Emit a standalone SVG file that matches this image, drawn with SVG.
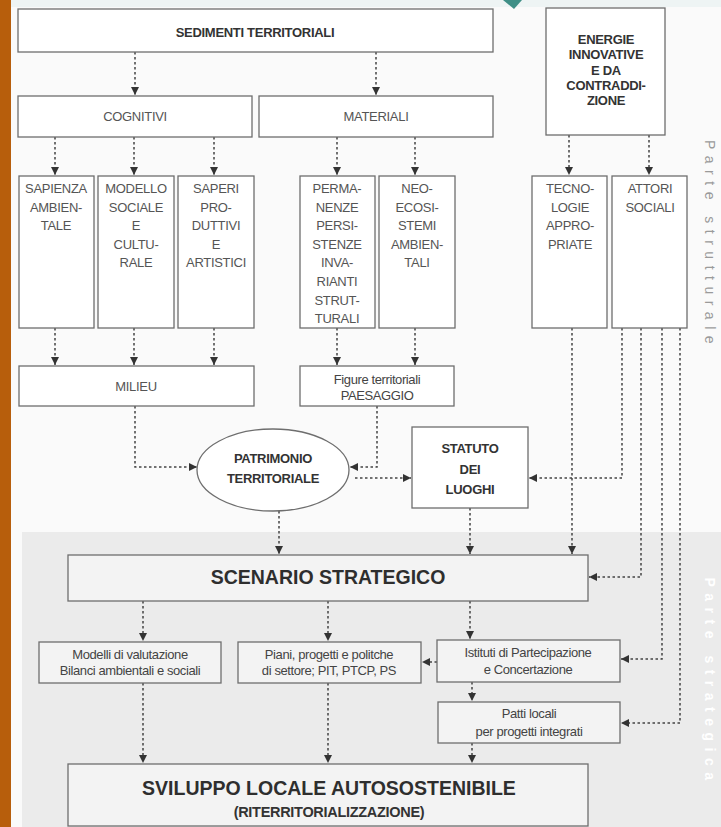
<svg xmlns="http://www.w3.org/2000/svg" width="721" height="827" viewBox="0 0 721 827">
<style>
.box{fill:#ffffff;stroke:#6e6e6e;stroke-width:1.3}
.gbox{fill:#f3f3f3;stroke:#6e6e6e;stroke-width:1.3}
.t{font-family:"Liberation Sans",Arial,sans-serif;font-size:13px;fill:#555;text-anchor:middle;letter-spacing:-0.3px}
.tb{font-family:"Liberation Sans",Arial,sans-serif;font-size:13px;font-weight:bold;fill:#333;text-anchor:middle;letter-spacing:-0.3px}
.ts{font-family:"Liberation Sans",Arial,sans-serif;font-size:13px;fill:#444;text-anchor:middle;letter-spacing:-0.4px}
.big{font-family:"Liberation Sans",Arial,sans-serif;font-size:19.5px;font-weight:bold;fill:#2e2e2e;text-anchor:middle}
.c{fill:none;stroke:#444;stroke-width:1.5;stroke-dasharray:2.5 2.5}
.side{font-family:"Liberation Sans",Arial,sans-serif;font-size:14px;letter-spacing:6.5px;text-anchor:middle}
</style>
<defs>
<marker id="ah" markerUnits="userSpaceOnUse" markerWidth="9" markerHeight="9" refX="8" refY="4" orient="auto">
<path d="M0,0 L8,4 L0,8 z" fill="#333"/>
</marker>
</defs>
<rect x="0" y="0" width="721" height="827" fill="#fafafa"/>
<rect x="22" y="532" width="699" height="295" fill="#ebebeb"/>
<rect x="0" y="0" width="721" height="7" fill="#eef4f4"/>
<path d="M503,0 L522,0 L514,9 Z" fill="#3f8f86"/>
<rect x="0" y="0" width="11" height="827" fill="#b75e0c"/>
<text class="side" fill="#9a9a9a" transform="translate(705,245) rotate(90)">Parte strutturale</text>
<text class="side" fill="#ffffff" font-weight="bold" transform="translate(705,682) rotate(90)">Parte strategica</text>

<g id="connectors">
<path class="c" d="M135,52 V95" marker-end="url(#ah)"/>
<path class="c" d="M376,52 V95" marker-end="url(#ah)"/>
<path class="c" d="M55,137 V175" marker-end="url(#ah)"/>
<path class="c" d="M134,137 V175" marker-end="url(#ah)"/>
<path class="c" d="M214,137 V175" marker-end="url(#ah)"/>
<path class="c" d="M337,137 V175" marker-end="url(#ah)"/>
<path class="c" d="M415,137 V175" marker-end="url(#ah)"/>
<path class="c" d="M569,135 V175" marker-end="url(#ah)"/>
<path class="c" d="M649,135 V175" marker-end="url(#ah)"/>
<path class="c" d="M55,328 V365" marker-end="url(#ah)"/>
<path class="c" d="M134,328 V365" marker-end="url(#ah)"/>
<path class="c" d="M214,328 V365" marker-end="url(#ah)"/>
<path class="c" d="M337,328 V365" marker-end="url(#ah)"/>
<path class="c" d="M415,328 V365" marker-end="url(#ah)"/>
<path class="c" d="M135,406 V467 H197" marker-end="url(#ah)"/>
<path class="c" d="M377,406 V467 H350" marker-end="url(#ah)"/>
<path class="c" d="M355,478 H411" marker-end="url(#ah)"/>
<path class="c" d="M622,328 V478 H529" marker-end="url(#ah)"/>
<path class="c" d="M572,328 V554" marker-end="url(#ah)"/>
<path class="c" d="M641,328 V577 H589" marker-end="url(#ah)"/>
<path class="c" d="M662,328 V659 H621" marker-end="url(#ah)"/>
<path class="c" d="M680,328 V723 H621" marker-end="url(#ah)"/>
<path class="c" d="M279,511 V554" marker-end="url(#ah)"/>
<path class="c" d="M470,508 V554" marker-end="url(#ah)"/>
<path class="c" d="M143,601 V641" marker-end="url(#ah)"/>
<path class="c" d="M328,601 V641" marker-end="url(#ah)"/>
<path class="c" d="M470,601 V639" marker-end="url(#ah)"/>
<path class="c" d="M437,662 H422" marker-end="url(#ah)"/>
<path class="c" d="M472,682 V701" marker-end="url(#ah)"/>
<path class="c" d="M143,683 V763" marker-end="url(#ah)"/>
<path class="c" d="M328,683 V763" marker-end="url(#ah)"/>
<path class="c" d="M472,743 V763" marker-end="url(#ah)"/>
</g>

<g id="sedimenti"><rect class="box" x="18" y="9" width="475" height="43"/><text class="tb" x="255" y="37">SEDIMENTI TERRITORIALI</text></g>
<g id="energie"><rect class="box" x="546" y="8" width="119" height="127"/>
<text class="tb" x="606" y="44">ENERGIE</text><text class="tb" x="606" y="59">INNOVATIVE</text><text class="tb" x="606" y="75">E DA</text><text class="tb" x="606" y="90">CONTRADDI-</text><text class="tb" x="606" y="105">ZIONE</text></g>
<g id="cognitivi"><rect class="box" x="18" y="96" width="234" height="41"/><text class="t" x="135" y="121">COGNITIVI</text></g>
<g id="materiali"><rect class="box" x="259" y="96" width="234" height="41"/><text class="t" x="376" y="121">MATERIALI</text></g>

<g id="sapienza"><rect class="box" x="19" y="176" width="75" height="152"/>
<text class="t" x="56" y="193">SAPIENZA</text><text class="t" x="56" y="212">AMBIEN-</text><text class="t" x="56" y="230">TALE</text></g>
<g id="modello"><rect class="box" x="98" y="176" width="76" height="152"/>
<text class="t" x="136" y="193">MODELLO</text><text class="t" x="136" y="212">SOCIALE</text><text class="t" x="136" y="230">E</text><text class="t" x="136" y="249">CULTU-</text><text class="t" x="136" y="267">RALE</text></g>
<g id="saperi"><rect class="box" x="178" y="176" width="76" height="152"/>
<text class="t" x="216" y="193">SAPERI</text><text class="t" x="216" y="212">PRO-</text><text class="t" x="216" y="230">DUTTIVI</text><text class="t" x="216" y="249">E</text><text class="t" x="216" y="267">ARTISTICI</text></g>
<g id="permanenze"><rect class="box" x="300" y="176" width="75" height="152"/>
<text class="t" x="337" y="193">PERMA-</text><text class="t" x="337" y="212">NENZE</text><text class="t" x="337" y="230">PERSI-</text><text class="t" x="337" y="249">STENZE</text><text class="t" x="337" y="267">INVA-</text><text class="t" x="337" y="286">RIANTI</text><text class="t" x="337" y="305">STRUT-</text><text class="t" x="337" y="323">TURALI</text></g>
<g id="neoecosistemi"><rect class="box" x="379" y="176" width="76" height="152"/>
<text class="t" x="417" y="193">NEO-</text><text class="t" x="417" y="212">ECOSI-</text><text class="t" x="417" y="230">STEMI</text><text class="t" x="417" y="249">AMBIEN-</text><text class="t" x="417" y="267">TALI</text></g>
<g id="tecnologie"><rect class="box" x="532" y="176" width="75" height="152"/>
<text class="t" x="570" y="193">TECNO-</text><text class="t" x="570" y="212">LOGIE</text><text class="t" x="570" y="230">APPRO-</text><text class="t" x="570" y="249">PRIATE</text></g>
<g id="attori"><rect class="box" x="612" y="176" width="75" height="152"/>
<text class="t" x="650" y="193">ATTORI</text><text class="t" x="650" y="212">SOCIALI</text></g>

<g id="milieu"><rect class="box" x="19" y="366" width="235" height="40"/><text class="t" x="136" y="391">MILIEU</text></g>
<g id="figure"><rect class="box" x="300" y="366" width="154" height="40"/><text class="ts" x="377" y="384">Figure territoriali</text><text class="ts" x="377" y="400">PAESAGGIO</text></g>
<g id="patrimonio"><ellipse class="box" cx="273" cy="470" rx="76" ry="41"/><text class="tb" x="273" y="463">PATRIMONIO</text><text class="tb" x="273" y="483">TERRITORIALE</text></g>
<g id="statuto"><rect class="box" x="412" y="427" width="116" height="81"/><text class="tb" x="470" y="453">STATUTO</text><text class="tb" x="470" y="474">DEI</text><text class="tb" x="470" y="494">LUOGHI</text></g>

<g id="scenario"><rect class="gbox" x="68" y="555" width="520" height="46"/><text class="big" x="328" y="584">SCENARIO STRATEGICO</text></g>
<g id="modelli"><rect class="gbox" x="39" y="642" width="182" height="41"/><text class="ts" x="130" y="659">Modelli di valutazione</text><text class="ts" x="130" y="675">Bilanci ambientali e sociali</text></g>
<g id="piani"><rect class="gbox" x="238" y="642" width="183" height="41"/><text class="ts" x="329" y="659">Piani, progetti e politche</text><text class="ts" x="329" y="675">di settore; PIT, PTCP, PS</text></g>
<g id="istituti"><rect class="gbox" x="437" y="640" width="183" height="42"/><text class="ts" x="528" y="657">Istituti di Partecipazione</text><text class="ts" x="528" y="674">e Concertazione</text></g>
<g id="patti"><rect class="gbox" x="438" y="702" width="182" height="41"/><text class="ts" x="529" y="718">Patti locali</text><text class="ts" x="529" y="736">per progetti integrati</text></g>
<g id="sviluppo"><rect class="gbox" x="68" y="764" width="520" height="62"/><text class="big" x="329" y="795">SVILUPPO LOCALE AUTOSOSTENIBILE</text><text class="tb" x="329" y="817" style="font-size:14.5px">(RITERRITORIALIZZAZIONE)</text></g>
</svg>
